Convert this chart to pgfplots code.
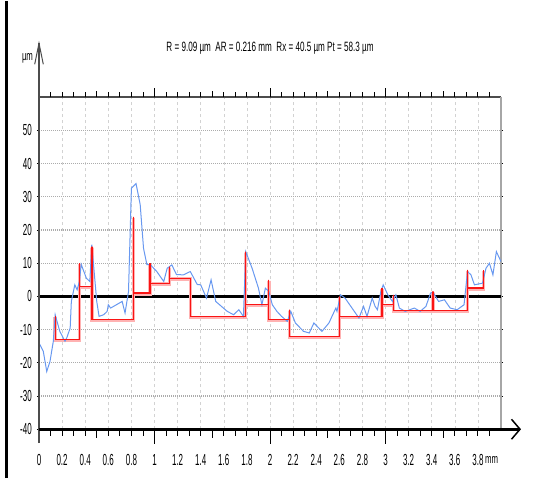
\documentclass[border=0pt]{standalone}
\usepackage{fontspec}
\setmainfont{Liberation Sans}
\newfontfamily\nf[FakeStretch=0.6]{Liberation Sans}
\newfontfamily\tf[FakeStretch=0.5]{Liberation Sans}
\usepackage{pgfplots}
\pgfplotsset{compat=1.18}

\definecolor{prof}{RGB}{104,152,240}
\definecolor{glow}{RGB}{255,178,178}
\definecolor{motif}{RGB}{250,20,20}

\begin{document}
\begin{tikzpicture}
\begin{axis}[
    name=a,
    width=462pt, height=332pt, scale only axis,
    xmin=0, xmax=4, ymin=-40, ymax=60,
    clip=false,
    axis line style={draw=none},
    xtick={0,0.2,0.4,0.6,0.8,1,1.2,1.4,1.6,1.8,2,2.2,2.4,2.6,2.8,3,3.2,3.4,3.6,3.8},
    xticklabels={0,0.2,0.4,0.6,0.8,1,1.2,1.4,1.6,1.8,2,2.2,2.4,2.6,2.8,3,3.2,3.4,3.6,3.8},
    ytick={-40,-30,-20,-10,0,10,20,30,40,50},
    yticklabels={-40,-30,-20,-10,0,10,20,30,40,50},
    xtick style={draw=none},
    ytick style={black, line width=0.9pt},
    tick align=outside, major tick length=2pt,
    grid=major,
    x grid style={gray!35, line width=0.6pt, dash pattern=on 3pt off 3pt},
    y grid style={gray!65, line width=1.3pt, dash pattern=on 1pt off 1pt},
    xticklabel style={font=\tf\fontsize{16}{16}\selectfont, anchor=center, inner sep=0pt, yshift=-29pt},
    yticklabel style={font=\tf\fontsize{16}{16}\selectfont, anchor=east, inner sep=0pt, xshift=-5pt},
]
% ruler, border, zero line
\draw[gray!60!black, line width=2.5pt] (axis cs:0,60) -- (axis cs:4,60);
\draw[gray!70, line width=1.2pt] (axis cs:4,-40) -- (axis cs:4,60);
\draw[black, line width=2.6pt] (axis cs:0,0) -- (axis cs:4,0);

% motif steps (glow under)
\addplot[glow, line width=3.5pt, yshift=-1pt] coordinates {
(0.14,-6) (0.14,-13) (0.35,-13) (0.35,10) (0.35,3) (0.46,3) (0.46,15) (0.46,-7)
(0.82,-7) (0.82,24) (0.82,1) (0.96,1) (0.96,10) (0.96,4) (1.13,4) (1.13,9) (1.13,5.5)
(1.31,5.5) (1.31,-6) (1.79,-6) (1.79,13.5) (1.79,-2.5) (1.99,-2.5) (1.99,5) (1.99,-7)
(2.17,-7) (2.17,-4) (2.17,-12) (2.60,-12) (2.60,0) (2.60,-6) (2.97,-6) (2.97,2.5) (2.97,-2.5)
(3.07,-2.5) (3.07,0.5) (3.07,-4.3) (3.41,-4.3) (3.41,1.5) (3.41,-4.3) (3.71,-4.3) (3.71,8)
(3.71,2.5) (3.85,2.5) (3.85,8)
};
% profile
\addplot[prof, line width=1pt] coordinates {
(0,-14) (0.037,-16.5) (0.067,-22.6) (0.095,-19.6) (0.124,-13.5) (0.14,-5.5) (0.18,-10.5)
(0.225,-13.5) (0.24,-12.5) (0.27,-9.5) (0.28,-1.5) (0.31,3.5) (0.33,2) (0.35,4.5) (0.365,9.7)
(0.41,5.5) (0.44,4.5) (0.457,15.6) (0.5,-1.5) (0.52,-6) (0.56,-5.5) (0.59,-4.5) (0.60,-2.5)
(0.62,-3.5) (0.67,-2.5) (0.72,-1.5) (0.745,-5) (0.775,1.5) (0.80,32.6) (0.84,34) (0.876,27.7)
(0.905,14.5) (0.934,9.6) (0.963,9.6) (1.02,7.5) (1.08,4.5) (1.11,8.5) (1.15,9.5) (1.19,6.6)
(1.25,6.5) (1.31,7.5) (1.37,3.6) (1.40,3.5) (1.45,-0.5) (1.49,5) (1.53,-1.5) (1.58,-3)
(1.63,-4.5) (1.685,-5.5) (1.73,-4) (1.77,-6) (1.79,13.5) (1.845,8.5) (1.90,2.5) (1.93,-2.5)
(1.96,2.5) (1.99,1.5) (2.02,-2.5) (2.06,-4.5) (2.10,-6) (2.15,-7.5) (2.18,-4.5) (2.22,-8)
(2.29,-10.5) (2.34,-11) (2.38,-8) (2.45,-10.5) (2.51,-8) (2.57,-3.5) (2.58,-4.5) (2.61,0.5)
(2.65,-0.5) (2.70,-3) (2.77,-6.5) (2.81,-3) (2.84,-6) (2.885,-0.5) (2.91,-3) (2.93,-4)
(2.96,1.5) (2.98,3.5) (3.02,0.5) (3.06,-1.5) (3.09,0.5) (3.12,-3.5) (3.17,-4.5) (3.25,-3.5)
(3.30,-4.5) (3.35,-3) (3.39,1) (3.41,1.3) (3.46,-1.5) (3.51,-1) (3.56,-3.5) (3.62,-4)
(3.68,-2.5) (3.71,7.5) (3.74,6.5) (3.77,3.5) (3.84,4) (3.87,8.5) (3.90,10) (3.93,6.5)
(3.96,13.5) (4.0,10.5)
};
\addplot[motif, line width=1.3pt] coordinates {
(0.14,-6) (0.14,-13) (0.35,-13) (0.35,10) (0.35,3) (0.46,3) (0.46,15) (0.46,-7)
(0.82,-7) (0.82,24) (0.82,1) (0.96,1) (0.96,10) (0.96,4) (1.13,4) (1.13,9) (1.13,5.5)
(1.31,5.5) (1.31,-6) (1.79,-6) (1.79,13.5) (1.79,-2.5) (1.99,-2.5) (1.99,5) (1.99,-7)
(2.17,-7) (2.17,-4) (2.17,-12) (2.60,-12) (2.60,0) (2.60,-6) (2.97,-6) (2.97,2.5) (2.97,-2.5)
(3.07,-2.5) (3.07,0.5) (3.07,-4.3) (3.41,-4.3) (3.41,1.5) (3.41,-4.3) (3.71,-4.3) (3.71,8)
(3.71,2.5) (3.85,2.5) (3.85,8)
};
\end{axis}

% bounding box and left frame
\path (a.south west) ++(-39pt,-49pt) rectangle ++(536pt,477pt);
\draw[black, line width=2.5pt] (a.south west) ++(-32.3pt,-49pt) -- ++(0,477pt);

% y axis line with open arrow
\draw[gray!60!black, line width=1.2pt] (a.south west) ++(0,-14pt) -- ++(0,400pt);
\draw[gray!60!black, line width=1pt] (a.north west) ++(-4.3pt,33pt) -- ++(4.3pt,21pt) -- ++(4.3pt,-21pt);
% x axis with open arrow
\draw[black, line width=2.6pt] (a.south west) -- ++(481pt,0);
\draw[black, line width=1.5pt] (a.south west) ++(472.5pt,10pt) -- ++(8.5pt,-10pt) -- ++(-8.5pt,-10pt);

% ruler ticks (top) and axis ticks (bottom)
\foreach \i in {1,...,39} {
  \draw[black, line width=0.9pt] (a.north west) ++(\i*11.55pt,0) -- ++(0,5pt);
  \draw[black, line width=0.9pt] (a.south west) ++(\i*11.55pt,0) -- ++(0,-7pt);
}
\foreach \i in {5,15,25,35} {
  \draw[black, line width=0.9pt] (a.north west) ++(\i*11.55pt,0) -- ++(0,6.5pt);
  \draw[black, line width=0.9pt] (a.south west) ++(\i*11.55pt,0) -- ++(0,-9pt);
}
\foreach \i in {10,20,30} {
  \draw[black, line width=0.9pt] (a.north west) ++(\i*11.55pt,0) -- ++(0,9pt);
  \draw[black, line width=0.9pt] (a.south west) ++(\i*11.55pt,0) -- ++(0,-15pt);
}

% texts
\node[font=\nf\fontsize{13.5}{14}\selectfont, inner sep=0pt] at ([xshift=231pt,yshift=49pt]a.north west)
  {R = 9.09 µm \ AR = 0.216 mm \ Rx = 40.5 µm Pt = 58.3 µm};
\node[font=\nf\fontsize{13}{13}\selectfont, inner sep=0pt] at ([xshift=-11.5pt,yshift=39pt]a.north west) {µm};
\node[font=\nf\fontsize{13}{13}\selectfont, inner sep=0pt, anchor=west] at ([xshift=446pt,yshift=-31pt]a.south west) {mm};
\end{tikzpicture}
\end{document}
